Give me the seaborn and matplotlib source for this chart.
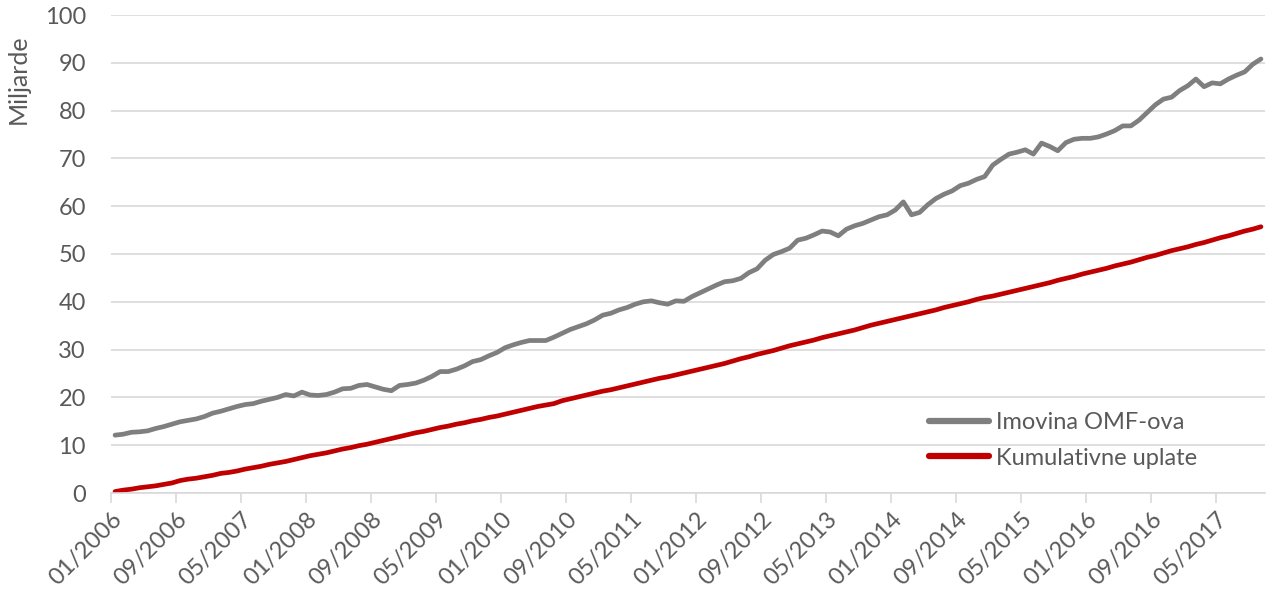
import matplotlib
matplotlib.use("Agg")
import matplotlib.pyplot as plt
import seaborn as sns
import pandas as pd
import numpy as np

# monthly data, 01/2006 - 10/2017 (bn)
months = pd.date_range("2006-01-01", periods=142, freq="MS")

imovina = [
    12.1, 12.3, 12.7, 12.8, 13.0, 13.5, 13.9, 14.4, 14.9, 15.2, 15.5, 16.0,
    16.7, 17.1, 17.6, 18.1, 18.5, 18.7, 19.2, 19.6, 20.0, 20.6, 20.3, 21.1,
    20.5, 20.4, 20.6, 21.1, 21.8, 21.9, 22.5, 22.7, 22.2, 21.7, 21.4, 22.5,
    22.7, 23.0, 23.6, 24.4, 25.4, 25.4, 25.9, 26.6, 27.5, 27.9, 28.7, 29.4,
    30.4, 31.0, 31.5, 31.9, 31.9, 31.9, 32.6, 33.4, 34.2, 34.8, 35.4, 36.2,
    37.2, 37.6, 38.3, 38.8, 39.5, 40.0, 40.2, 39.8, 39.5, 40.2, 40.1, 41.1,
    41.9, 42.7, 43.5, 44.2, 44.4, 44.9, 46.1, 46.9, 48.7, 49.9, 50.5, 51.2,
    52.9, 53.3, 54.0, 54.8, 54.6, 53.8, 55.2, 55.9, 56.4, 57.1, 57.8, 58.2,
    59.2, 60.9, 58.2, 58.7, 60.3, 61.6, 62.5, 63.2, 64.3, 64.8, 65.6, 66.2,
    68.6, 69.8, 70.9, 71.3, 71.8, 70.9, 73.2, 72.5, 71.6, 73.3, 74.0, 74.2,
    74.2, 74.5, 75.1, 75.8, 76.8, 76.8, 78.0, 79.6, 81.2, 82.4, 82.8, 84.2,
    85.2, 86.6, 85.0, 85.8, 85.6, 86.6, 87.4, 88.1, 89.7, 90.8,
]

uplate = [
    0.3, 0.6, 0.8, 1.1, 1.3, 1.5, 1.8, 2.1, 2.6, 2.9, 3.1, 3.4,
    3.7, 4.1, 4.3, 4.6, 5.0, 5.3, 5.6, 6.0, 6.3, 6.6, 7.0, 7.4,
    7.8, 8.1, 8.4, 8.8, 9.2, 9.5, 9.9, 10.2, 10.6, 11.0, 11.4, 11.8,
    12.2, 12.6, 12.9, 13.3, 13.7, 14.0, 14.4, 14.7, 15.1, 15.4, 15.8, 16.1,
    16.5, 16.9, 17.3, 17.7, 18.1, 18.4, 18.7, 19.3, 19.7, 20.1, 20.5, 20.9,
    21.3, 21.6, 22.0, 22.4, 22.8, 23.2, 23.6, 24.0, 24.3, 24.7, 25.1, 25.5,
    25.9, 26.3, 26.7, 27.1, 27.6, 28.1, 28.5, 29.0, 29.4, 29.8, 30.3, 30.8,
    31.2, 31.6, 32.0, 32.5, 32.9, 33.3, 33.7, 34.1, 34.6, 35.1, 35.5, 35.9,
    36.3, 36.7, 37.1, 37.5, 37.9, 38.3, 38.8, 39.2, 39.6, 40.0, 40.5, 40.9,
    41.2, 41.6, 42.0, 42.4, 42.8, 43.2, 43.6, 44.0, 44.5, 44.9, 45.3, 45.8,
    46.2, 46.6, 47.0, 47.5, 47.9, 48.3, 48.8, 49.3, 49.7, 50.2, 50.7, 51.1,
    51.5, 52.0, 52.4, 52.9, 53.4, 53.8, 54.3, 54.8, 55.2, 55.7,
]

series_names = ["Imovina OMF-ova", "Kumulativne uplate"]
colors = ["#7f7f7f", "#c00000"]

# long format for seaborn; points sit in the middle of each month slot
pos = np.arange(len(months)) + 0.5
df = pd.DataFrame({
    "pos": np.concatenate([pos, pos]),
    "val": imovina + uplate,
    "serija": [series_names[0]] * len(months) + [series_names[1]] * len(months),
})

sns.set_style("white")
plt.rcParams["font.family"] = ["Lato", "DejaVu Sans"]
txt = "#595959"
grid = "#d9d9d9"
fs = 17

fig = plt.figure(figsize=(12.72, 6.02), dpi=100)
ax = fig.add_axes([111 / 1272, 1 - 493 / 602, 1154 / 1272, 478 / 602])

sns.lineplot(data=df, x="pos", y="val", hue="serija", palette=colors,
             linewidth=3.4, ax=ax, solid_capstyle="round", legend=True)

ax.set_xlim(0, 142)
ax.set_ylim(0, 100)
ax.set_yticks(range(0, 101, 10))
ax.yaxis.grid(True, color=grid, linewidth=1.2)
ax.set_axisbelow(True)

tick_pos = np.arange(0, len(months), 8)
ax.set_xticks(tick_pos)
ax.set_xticklabels([months[i].strftime("%m/%Y") for i in tick_pos],
                   rotation=45, ha="right", rotation_mode="anchor")
ax.tick_params(axis="x", length=7, width=1.2, color=grid, colors=txt,
               labelsize=fs, pad=4, bottom=True)
ax.tick_params(axis="x", color=grid)
ax.tick_params(axis="y", length=0, labelsize=fs, colors=txt, pad=18)

for s in ["top", "right", "left"]:
    ax.spines[s].set_visible(False)
ax.spines["bottom"].set_color(grid)
ax.spines["bottom"].set_linewidth(1.2)

ax.set_xlabel("")
ax.set_ylabel("")
fig.text(18 / 1272, 1 - 79 / 602, "Miljarde", rotation=90, ha="center",
         va="center", fontsize=18, color=txt)

leg = ax.legend(loc="center left", bbox_to_anchor=((929 - 111) / 1154, 0.11),
                frameon=False, fontsize=fs, handlelength=2.55,
                handletextpad=0.3, labelspacing=0.6, borderpad=0,
                borderaxespad=0)
for t in leg.get_texts():
    t.set_color(txt)
for h in leg.get_lines():
    h.set_linewidth(4.5)

fig.savefig("out.png", dpi=100)
